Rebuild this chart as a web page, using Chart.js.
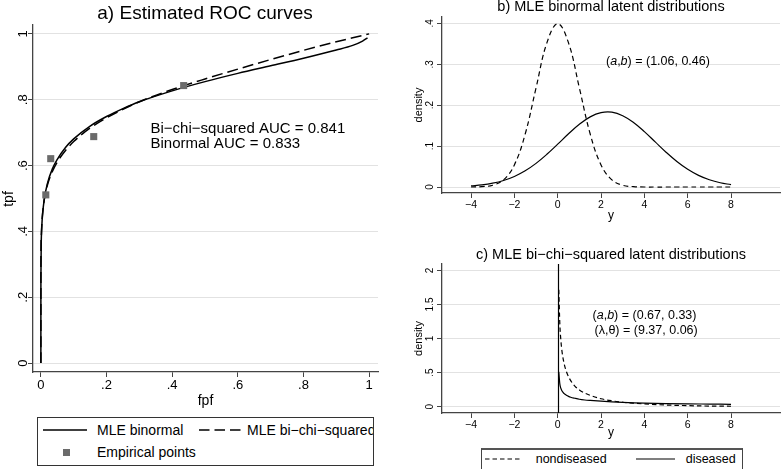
<!DOCTYPE html>
<html><head><meta charset="utf-8">
<script src="https://cdn.jsdelivr.net/npm/chart.js@4.4.1/dist/chart.umd.min.js"></script>
<style>
html,body{margin:0;padding:0;background:#fff;}
body{width:781px;height:469px;position:relative;overflow:hidden;font-family:"Liberation Sans",Arial,Helvetica,sans-serif;color:#000;}
canvas{position:absolute;}
.leg{position:absolute;box-sizing:border-box;overflow:hidden;background:#fff;}
.leg span{position:absolute;white-space:nowrap;}
.leg svg{position:absolute;overflow:visible;}
</style></head><body>
<canvas id="ca" style="left:0px;top:0px" width="420" height="410"></canvas>
<canvas id="cb" style="left:400px;top:0px" width="381" height="230"></canvas>
<canvas id="cc" style="left:400px;top:230px" width="381" height="239"></canvas>

<div class="leg" style="left:37px;top:417px;width:337px;height:49px;border:1px solid #333;">
  <svg style="left:5px;top:12px" width="44" height="1"><line x1="0" y1="0" x2="44" y2="0" stroke="#000" stroke-width="1.5"/></svg>
  <span style="left:59px;top:3px;font-size:14px;line-height:18px;" id="la1"></span>
  <svg style="left:161px;top:12px" width="42" height="1"><line x1="0" y1="0" x2="42" y2="0" stroke="#000" stroke-width="1.5" stroke-dasharray="10.5 5"/></svg>
  <span style="left:209px;top:3px;font-size:14px;line-height:18px;" id="la2"></span>
  <svg style="left:24.5px;top:30.5px" width="7" height="7"><rect x="0" y="0" width="7" height="7" fill="#6b6b6b"/></svg>
  <span style="left:59px;top:25px;font-size:14px;line-height:18px;" id="la3"></span>
</div>
<div class="leg" style="left:481px;top:448px;width:262px;height:34px;border:1px solid #444;border-top:2px solid #555;">
  <svg style="left:3px;top:9px" width="37" height="1"><line x1="0" y1="0" x2="37" y2="0" stroke="#000" stroke-width="1.2" stroke-dasharray="4.5 3"/></svg>
  <span style="left:53.7px;top:1px;font-size:12.5px;line-height:16px;" id="lc1"></span>
  <svg style="left:154px;top:9px" width="39" height="1"><line x1="0" y1="0" x2="39" y2="0" stroke="#000" stroke-width="1.2"/></svg>
  <span style="left:203.7px;top:1px;font-size:12.5px;line-height:16px;" id="lc2"></span>
</div>

<script>
const FONT = '"Liberation Sans", Arial, Helvetica, sans-serif';
Chart.defaults.font.family = FONT;
Chart.defaults.color = '#000';
Chart.defaults.animation = false;

// ---------- Panel a: Estimated ROC curves ----------
const rocTitle = 'a) Estimated ROC curves';
const rocXTicks = [0, 0.2, 0.4, 0.6, 0.8, 1];
const rocXTickLabels = ['0', '.2', '.4', '.6', '.8', '1'];
const rocYTicks = [0, 0.2, 0.4, 0.6, 0.8, 1];
const rocYTickLabels = ['0', '.2', '.4', '.6', '.8', '1'];
const rocXTitle = 'fpf';
const rocYTitle = 'tpf';
const binormalFpf = [0, 0.00002, 0.0001, 0.001, 0.003, 0.005, 0.01, 0.02, 0.035, 0.05, 0.075, 0.1, 0.15, 0.2, 0.25, 0.3, 0.4, 0.5, 0.6, 0.7, 0.8, 0.9, 0.95, 0.98, 0.995];
const binormalTpf = [0, 0.2, 0.258, 0.359, 0.419, 0.450, 0.496, 0.546, 0.590, 0.619, 0.655, 0.681, 0.720, 0.749, 0.773, 0.794, 0.827, 0.855, 0.880, 0.903, 0.926, 0.951, 0.965, 0.978, 0.988];
const bichiFpf = [0, 0.0001, 0.001, 0.003, 0.005, 0.01, 0.02, 0.035, 0.05, 0.075, 0.1, 0.15, 0.2, 0.25, 0.3, 0.4, 0.5, 0.6, 0.7, 0.8, 0.9, 0.95, 1];
const bichiTpf = [0, 0.30, 0.38, 0.425, 0.452, 0.494, 0.541, 0.582, 0.611, 0.646, 0.673, 0.714, 0.745, 0.771, 0.794, 0.831, 0.863, 0.893, 0.922, 0.950, 0.976, 0.988, 1.0];
const empiricalFpf = [0.015, 0.03, 0.161, 0.435];
const empiricalTpf = [0.511, 0.621, 0.688, 0.843];
const aucLabels = ['Bi\u2212chi\u2212squared AUC = 0.841', 'Binormal AUC = 0.833'];
const rocLegend = ['MLE binormal', 'MLE bi\u2212chi\u2212squared', 'Empirical points'];

// ---------- Panel b: MLE binormal latent distributions ----------
const binTitle = 'b) MLE binormal latent distributions';
const latentXTicks = [-4, -2, 0, 2, 4, 6, 8];
const latentXTickLabels = ['\u22124', '\u22122', '0', '2', '4', '6', '8'];
const binYTicks = [0, 0.1, 0.2, 0.3, 0.4];
const binYTickLabels = ['0', '.1', '.2', '.3', '.4'];
const binY = [-4, -3.5, -3, -2.5, -2, -1.5, -1, -0.5, 0, 0.5, 1, 1.5, 2, 2.5, 3, 3.5, 4, 4.5, 5, 5.5, 6, 6.5, 7, 7.5, 8];
const binNondiseased = [0.0001, 0.0009, 0.0044, 0.0175, 0.0540, 0.1295, 0.2420, 0.3521, 0.3989, 0.3521, 0.2420, 0.1295, 0.0540, 0.0175, 0.0044, 0.0009, 0.0001, 0, 0, 0, 0, 0, 0, 0, 0];
const binDiseased = [0.0027, 0.0052, 0.0094, 0.0160, 0.0259, 0.0397, 0.0578, 0.0799, 0.1047, 0.1300, 0.1533, 0.1714, 0.1817, 0.1828, 0.1743, 0.1577, 0.1354, 0.1102, 0.0851, 0.0623, 0.0433, 0.0285, 0.0178, 0.0105, 0.0059];
const binParams = ['1.06, 0.46'];

// ---------- Panel c: MLE bi-chi-squared latent distributions ----------
const chiTitle = 'c) MLE bi\u2212chi\u2212squared latent distributions';
const chiYTicks = [0, 0.5, 1, 1.5, 2];
const chiYTickLabels = ['0', '.5', '1', '1.5', '2'];
const chiY = [0.05, 0.1, 0.15, 0.2, 0.3, 0.4, 0.5, 0.6, 0.8, 1, 1.25, 1.5, 2, 2.5, 3, 3.5, 4, 5, 6, 7, 8];
const chiNondiseased = [1.715, 1.20, 0.96, 0.807, 0.627, 0.516, 0.439, 0.381, 0.297, 0.245, 0.198, 0.165, 0.115, 0.085, 0.064, 0.050, 0.039, 0.023, 0.014, 0.008, 0.005];
const chiDiseased = [0.51, 0.33, 0.265, 0.228, 0.19, 0.167, 0.150, 0.138, 0.122, 0.108, 0.097, 0.090, 0.079, 0.070, 0.062, 0.055, 0.050, 0.044, 0.040, 0.037, 0.034];
const chiParams = ['0.67, 0.33', '9.37, 0.06'];
const chiRefLineX = 0;
const latentLegend = ['nondiseased', 'diseased'];
const densityTitle = 'density';
const latentXTitle = 'y';

document.getElementById('la1').textContent = rocLegend[0];
document.getElementById('la2').textContent = rocLegend[1];
document.getElementById('la3').textContent = rocLegend[2];
document.getElementById('lc1').textContent = latentLegend[0];
document.getElementById('lc2').textContent = latentLegend[1];

const pts = (xs, ys) => xs.map((x, i) => ({x: x, y: ys[i]}));
const AXIS = '#444';
const GRID = '#e2e2e2';

function fixTicks(values) {
  return function(scale) { scale.ticks = values.map(v => ({value: v})); };
}
function xScale(min, max, ticks, labels, height, fontSize, pad) {
  return {
    type: 'linear', min: min, max: max,
    afterBuildTicks: fixTicks(ticks),
    afterFit: s => { s.height = height; },
    grid: {drawOnChartArea: false, drawTicks: true, tickLength: 5, tickColor: AXIS, tickWidth: 1},
    border: {display: true, color: AXIS, width: 1.3},
    ticks: {callback: (v, i) => labels[i], font: {size: fontSize}, padding: pad, maxRotation: 0, minRotation: 0, color: '#000', autoSkip: false}
  };
}
function yScale(min, max, ticks, width) {
  return {
    type: 'linear', min: min, max: max,
    afterBuildTicks: fixTicks(ticks),
    afterFit: s => { s.width = width; },
    grid: {drawOnChartArea: true, color: GRID, lineWidth: 1, drawTicks: true, tickLength: 5, tickColor: AXIS},
    border: {display: true, color: AXIS, width: 1.3},
    ticks: {display: false}
  };
}
function rotText(ctx, txt, x, y, font) {
  ctx.save();
  ctx.font = font;
  ctx.translate(x, y);
  ctx.rotate(-Math.PI / 2);
  ctx.textAlign = 'center';
  ctx.textBaseline = 'alphabetic';
  ctx.fillStyle = '#000';
  ctx.fillText(txt, 0, 0);
  ctx.restore();
}
function drawYTickLabels(chart, ticks, labels, xRight, size) {
  const s = chart.scales.y;
  ticks.forEach((v, i) => rotText(chart.ctx, labels[i], xRight, s.getPixelForValue(v), size + 'px ' + FONT));
}
function plainText(ctx, txt, x, y, size, align) {
  ctx.save();
  ctx.font = size + 'px ' + FONT;
  ctx.textAlign = align || 'left';
  ctx.textBaseline = 'alphabetic';
  ctx.fillStyle = '#000';
  ctx.fillText(txt, x, y);
  ctx.restore();
}
// draws "(a,b) = (..)" style text with italic pieces
function richText(ctx, parts, x, y, size) {
  ctx.save();
  ctx.textBaseline = 'alphabetic';
  ctx.fillStyle = '#000';
  let cx = x;
  parts.forEach(p => {
    ctx.font = (p[1] ? 'italic ' : '') + size + 'px ' + FONT;
    ctx.fillText(p[0], cx, y);
    cx += ctx.measureText(p[0]).width;
  });
  ctx.restore();
}

// ---------- Chart a ----------
new Chart(document.getElementById('ca'), {
  type: 'scatter',
  data: {datasets: [
    {label: rocLegend[2], data: pts(empiricalFpf, empiricalTpf), pointStyle: 'rect', pointRadius: 5, pointBackgroundColor: '#6b6b6b', pointBorderWidth: 0, showLine: false, order: 0},
    {label: rocLegend[0], data: pts(binormalFpf, binormalTpf), showLine: true, borderColor: '#000', borderWidth: 1.5, pointRadius: 0, cubicInterpolationMode: 'monotone', order: 1},
    {label: rocLegend[1], data: pts(bichiFpf, bichiTpf), showLine: true, borderColor: '#000', borderWidth: 1.5, borderDash: [11, 5], pointRadius: 0, cubicInterpolationMode: 'monotone', order: 2}
  ]},
  options: {
    responsive: false, animation: false, devicePixelRatio: 1,
    layout: {padding: {left: 0, top: 25, right: 42, bottom: 0}},
    plugins: {legend: {display: false}, tooltip: {enabled: false}},
    scales: {
      x: xScale(-0.024, 1.027, rocXTicks, rocXTickLabels, 38, 13, 1),
      y: yScale(-0.027, 1.027, rocYTicks, 33)
    }
  },
  plugins: [{
    id: 'txtA',
    afterDraw(chart) {
      const ctx = chart.ctx, ca = chart.chartArea;
      plainText(ctx, rocTitle, 205, 18.5, 19, 'center');
      drawYTickLabels(chart, rocYTicks, rocYTickLabels, 26.5, 13);
      rotText(ctx, rocYTitle, 12.5, (ca.top + ca.bottom) / 2 + 0.5, '14px ' + FONT);
      plainText(ctx, rocXTitle, (ca.left + ca.right) / 2 + 0, 404.5, 14, 'center');
      const xs = chart.scales.x, ys = chart.scales.y;
      plainText(ctx, aucLabels[0], xs.getPixelForValue(0.334), ys.getPixelForValue(0.7), 15, 'left');
      plainText(ctx, aucLabels[1], xs.getPixelForValue(0.334), ys.getPixelForValue(0.6545), 15, 'left');
    }
  }]
});

// ---------- Chart b ----------
new Chart(document.getElementById('cb'), {
  type: 'scatter',
  data: {datasets: [
    {label: latentLegend[0], data: pts(binY, binNondiseased), showLine: true, borderColor: '#000', borderWidth: 1.2, borderDash: [5, 3.5], pointRadius: 0, tension: 0.4},
    {label: latentLegend[1], data: pts(binY, binDiseased), showLine: true, borderColor: '#000', borderWidth: 1.2, pointRadius: 0, tension: 0.4}
  ]},
  options: {
    responsive: false, animation: false, devicePixelRatio: 1,
    layout: {padding: {left: 0, top: 17, right: 1, bottom: 0}},
    plugins: {legend: {display: false}, tooltip: {enabled: false}},
    scales: {
      x: xScale(-5.34, 10.26, latentXTicks, latentXTickLabels, 37, 10.5, 1),
      y: yScale(-0.0146, 0.4154, binYTicks, 42)
    }
  },
  plugins: [{
    id: 'txtB',
    afterDraw(chart) {
      const ctx = chart.ctx, ca = chart.chartArea;
      const cxm = (ca.left + ca.right) / 2;
      plainText(ctx, binTitle, cxm, 11, 14.5, 'center');
      drawYTickLabels(chart, binYTicks, binYTickLabels, 33.3, 10);
      rotText(ctx, densityTitle, 21.5, (ca.top + ca.bottom) / 2, '11px ' + FONT);
      plainText(ctx, latentXTitle, cxm, 219.2, 12, 'center');
      const xs = chart.scales.x, ys = chart.scales.y;
      richText(ctx, [['(', 0], ['a', 1], [',', 0], ['b', 1], [') = (' + binParams[0] + ')', 0]], xs.getPixelForValue(2.23), ys.getPixelForValue(0.2985), 12.5);
    }
  }]
});

// ---------- Chart c ----------
new Chart(document.getElementById('cc'), {
  type: 'scatter',
  data: {datasets: [
    {label: latentLegend[0], data: pts(chiY, chiNondiseased), showLine: true, borderColor: '#000', borderWidth: 1.2, borderDash: [4.5, 3], pointRadius: 0, cubicInterpolationMode: 'monotone'},
    {label: latentLegend[1], data: pts(chiY, chiDiseased), showLine: true, borderColor: '#000', borderWidth: 1.2, pointRadius: 0, cubicInterpolationMode: 'monotone'}
  ]},
  options: {
    responsive: false, animation: false, devicePixelRatio: 1,
    layout: {padding: {left: 0, top: 34, right: 1, bottom: 0}},
    plugins: {legend: {display: false}, tooltip: {enabled: false}},
    scales: {
      x: xScale(-5.34, 10.26, latentXTicks, latentXTickLabels, 56, 10.5, 1),
      y: yScale(-0.094, 2.094, chiYTicks, 42)
    }
  },
  plugins: [{
    id: 'refLine',
    beforeDatasetsDraw(chart) {
      const ctx = chart.ctx, ca = chart.chartArea;
      const px = Math.round(chart.scales.x.getPixelForValue(chiRefLineX)) + 0.5;
      ctx.save();
      ctx.strokeStyle = '#000';
      ctx.lineWidth = 1.2;
      ctx.beginPath();
      ctx.moveTo(px, ca.top);
      ctx.lineTo(px, ca.bottom);
      ctx.stroke();
      ctx.restore();
    }
  }, {
    id: 'txtC',
    afterDraw(chart) {
      const ctx = chart.ctx, ca = chart.chartArea;
      const cxm = (ca.left + ca.right) / 2;
      plainText(ctx, chiTitle, cxm, 28.7, 14.5, 'center');
      drawYTickLabels(chart, chiYTicks, chiYTickLabels, 33.3, 10);
      rotText(ctx, densityTitle, 21.5, (ca.top + ca.bottom) / 2, '11px ' + FONT);
      plainText(ctx, latentXTitle, cxm, 205.5, 12, 'center');
      const xs = chart.scales.x, ys = chart.scales.y;
      richText(ctx, [['(', 0], ['a', 1], [',', 0], ['b', 1], [') = (' + chiParams[0] + ')', 0]], xs.getPixelForValue(1.61), ys.getPixelForValue(1.281), 12.5);
      richText(ctx, [['(\u03bb,\u03b8) = (' + chiParams[1] + ')', 0]], xs.getPixelForValue(1.70), ys.getPixelForValue(1.060), 12.5);
    }
  }]
});
</script>
</body></html>
